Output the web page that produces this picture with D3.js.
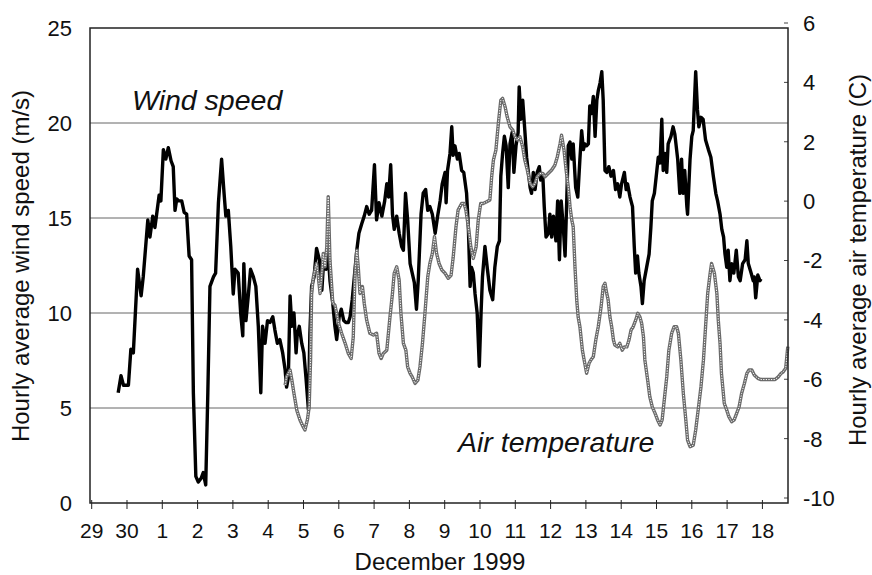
<!DOCTYPE html>
<html><head><meta charset="utf-8">
<script src="https://cdn.jsdelivr.net/npm/d3@7"></script>
<style>
html,body{margin:0;padding:0;background:#fff;}
svg text{font-family:"Liberation Sans",Arial,Helvetica,sans-serif;fill:#111;}
</style></head>
<body>
<svg id="chart" width="872" height="575"></svg>
<script>
// Time in days since 29 Nov 1999 00:00
const dayTicks = [0,1,2,3,4,5,6,7,8,9,10,11,12,13,14,15,16,17,18,19];
const dayLabels = ["29","30","1","2","3","4","5","6","7","8","9","10","11","12","13","14","15","16","17","18"];
const windTicks = [0,5,10,15,20,25];
const tempTicks = [-10,-8,-6,-4,-2,0,2,4,6];

const windTime = [0.75,0.83,0.90,1.04,1.11,1.18,1.30,1.40,1.46,1.59,1.65,1.73,1.79,1.84,1.91,1.96,2.03,2.10,2.17,2.25,2.31,2.36,2.41,2.47,2.55,2.62,2.69,2.76,2.83,2.88,2.95,3.02,3.10,3.16,3.23,3.29,3.35,3.45,3.51,3.59,3.68,3.75,3.80,3.87,3.94,4.01,4.06,4.15,4.22,4.28,4.31,4.37,4.44,4.50,4.58,4.65,4.72,4.79,4.84,4.91,4.98,5.05,5.13,5.19,5.26,5.33,5.41,5.48,5.52,5.57,5.62,5.67,5.73,5.79,5.82,5.88,5.95,6.01,6.07,6.14,6.18,6.23,6.30,6.37,6.45,6.52,6.58,6.64,6.70,6.75,6.83,6.89,6.94,7.01,7.07,7.14,7.20,7.27,7.32,7.38,7.44,7.51,7.57,7.65,7.72,7.79,7.86,7.93,8.01,8.07,8.14,8.22,8.30,8.36,8.41,8.47,8.52,8.57,8.64,8.71,8.78,8.83,8.89,8.95,9.02,9.08,9.14,9.20,9.25,9.33,9.39,9.46,9.52,9.58,9.65,9.73,9.80,9.87,9.93,10.01,10.04,10.08,10.15,10.20,10.24,10.29,10.36,10.41,10.48,10.54,10.62,10.67,10.72,10.76,10.81,10.86,10.92,10.98,11.03,11.07,11.14,11.21,11.28,11.36,11.42,11.49,11.55,11.59,11.64,11.69,11.74,11.80,11.85,11.91,11.96,12.02,12.08,12.11,12.16,12.21,12.27,12.32,12.37,12.42,12.46,12.51,12.56,12.62,12.68,12.72,12.78,12.82,12.87,12.94,12.98,13.03,13.08,13.15,13.20,13.25,13.30,13.36,13.41,13.46,13.50,13.55,13.60,13.64,13.71,13.77,13.83,13.88,13.93,13.97,14.02,14.07,14.11,14.16,14.21,14.26,14.31,14.35,14.40,14.45,14.49,14.54,14.59,14.65,14.71,14.78,14.84,14.90,14.96,15.01,15.09,15.14,15.18,15.25,15.32,15.37,15.41,15.46,15.50,15.56,15.60,15.65,15.72,15.79,15.84,15.88,15.94,16.01,16.05,16.10,16.15,16.19,16.24,16.29,16.33,16.41,16.47,16.52,16.60,16.66,16.71,16.75,16.80,16.86,16.88,16.95,17.00,17.04,17.11,17.16,17.20,17.26,17.32,17.39,17.47,17.54,17.61,17.68,17.73,17.80,17.85,17.90,17.94,17.99,18.03,18.08,18.13,18.19,18.26,18.32,18.37,18.44,18.51,18.56,18.60,18.68,18.74,18.77,18.81,18.87,18.93,18.96];
const windSpeed = [5.8,6.7,6.2,6.2,8.1,7.9,12.3,10.9,11.9,14.9,14.0,15.1,14.5,15.2,16.2,15.9,18.6,18.1,18.7,18.0,17.7,15.4,16.0,15.9,15.9,15.3,15.2,13.0,12.8,5.8,1.4,1.1,1.3,1.6,0.95,5.8,11.4,11.9,12.1,15.8,18.1,16.3,15.1,15.4,13.5,11.0,12.3,12.1,10.0,8.8,12.6,9.6,11.0,12.3,11.9,11.4,9.3,5.8,9.3,8.4,9.6,9.5,9.8,9.1,8.4,8.6,7.9,7.0,6.1,6.6,10.9,9.3,10.0,7.9,8.8,9.3,8.4,7.9,6.6,4.9,8.9,11.4,11.9,13.4,12.8,11.2,13.0,12.3,13.1,11.7,10.5,9.3,8.6,9.8,10.2,9.6,9.5,9.5,9.8,10.7,11.9,13.3,14.2,14.7,15.1,15.6,15.2,15.4,17.8,14.9,15.8,15.1,15.9,16.8,16.1,17.8,15.2,14.4,15.1,14.2,13.5,13.3,16.3,14.9,12.6,12.1,11.6,10.2,11.7,15.2,16.3,16.5,15.4,15.6,15.2,14.2,15.1,15.9,16.8,17.4,15.8,17.5,18.4,19.8,18.3,18.8,18.1,18.4,17.5,17.4,16.3,14.5,11.4,12.4,12.1,11.0,10.0,7.2,10.0,11.9,13.5,12.3,11.2,10.7,12.4,13.5,13.8,17.2,18.4,19.3,18.8,16.6,18.9,19.5,17.4,18.8,19.5,21.9,20.2,21.2,19.6,18.2,17.4,16.6,16.3,17.4,16.5,17.4,17.7,17.0,17.2,15.6,14.0,14.2,15.2,14.0,15.1,13.8,15.9,12.8,15.9,14.5,13.0,16.1,18.8,19.0,18.1,18.9,16.6,16.1,18.1,19.6,18.6,18.9,18.8,18.9,20.9,20.5,21.4,19.3,21.2,21.7,22.1,22.7,21.2,17.5,17.4,17.7,17.2,17.5,16.5,16.8,16.1,16.8,17.4,16.5,16.8,16.1,15.6,13.5,12.1,13.0,12.1,11.4,10.5,11.7,12.4,13.1,14.5,15.9,16.3,17.5,18.2,17.9,20.2,17.5,18.4,17.4,18.9,19.3,19.8,19.4,18.1,16.3,18.1,16.3,17.5,15.6,15.2,18.1,19.3,19.6,22.7,20.7,19.8,20.3,20.2,19.1,18.6,18.2,17.2,16.3,15.9,15.2,14.4,14.0,13.1,12.4,13.3,11.7,12.6,12.1,13.3,11.9,11.7,12.6,12.8,13.8,12.6,12.1,11.7,11.9,10.8,12.0,11.7,11.8];

const tempTime = [5.48,5.52,5.62,5.67,5.73,5.81,5.90,5.99,6.04,6.11,6.16,6.20,6.23,6.28,6.33,6.37,6.42,6.47,6.52,6.56,6.61,6.66,6.70,6.75,6.83,6.89,6.96,6.99,7.08,7.18,7.27,7.35,7.41,7.46,7.51,7.55,7.60,7.67,7.72,7.79,7.88,7.98,8.07,8.14,8.20,8.26,8.36,8.45,8.52,8.57,8.64,8.71,8.76,8.83,8.90,8.95,9.02,9.08,9.16,9.24,9.30,9.37,9.44,9.52,9.58,9.65,9.71,9.77,9.84,9.92,10.01,10.10,10.18,10.24,10.32,10.38,10.48,10.55,10.60,10.67,10.74,10.81,10.89,10.95,11.02,11.09,11.19,11.28,11.33,11.38,11.45,11.52,11.59,11.64,11.71,11.77,11.85,11.93,11.99,12.06,12.13,12.21,12.27,12.34,12.42,12.49,12.56,12.62,12.70,12.78,12.84,12.93,13.03,13.12,13.19,13.27,13.31,13.38,13.44,13.50,13.55,13.60,13.64,13.69,13.74,13.78,13.83,13.90,13.95,14.02,14.09,14.14,14.21,14.28,14.35,14.43,14.49,14.54,14.59,14.63,14.68,14.73,14.78,14.82,14.90,14.96,15.03,15.09,15.16,15.22,15.28,15.34,15.41,15.47,15.53,15.58,15.63,15.67,15.75,15.81,15.88,15.96,16.03,16.10,16.16,16.22,16.29,16.35,16.43,16.50,16.57,16.62,16.69,16.76,16.83,16.88,16.95,17.04,17.11,17.18,17.26,17.33,17.39,17.45,17.52,17.56,17.64,17.71,17.75,17.80,17.84,17.92,17.99,18.05,18.13,18.20,18.27,18.34,18.41,18.49,18.56,18.62,18.70,18.77,18.87,18.96,19.07,19.21,19.36,19.45,19.53,19.59,19.66,19.72];
const tempValue = [-6.20,-5.92,-5.69,-6.03,-6.48,-7.04,-7.37,-7.60,-7.71,-7.37,-6.93,-5.35,-3.11,-2.55,-2.32,-2.10,-2.55,-3.11,-2.43,-1.76,-2.21,-1.54,0.15,-1.99,-3.44,-3.50,-3.90,-4.10,-4.45,-4.79,-5.13,-5.30,-4.57,-2.43,-1.65,-2.21,-3.11,-2.88,-3.44,-4.01,-4.45,-4.51,-4.45,-5.13,-5.30,-5.13,-5.02,-3.90,-3.11,-2.43,-2.21,-2.66,-3.78,-4.79,-5.02,-5.58,-5.80,-5.92,-6.14,-6.03,-5.58,-4.79,-3.78,-2.55,-2.10,-1.76,-1.20,-1.76,-2.10,-2.32,-2.43,-2.60,-2.50,-1.90,-0.86,-0.30,-0.08,-0.08,-0.30,-0.86,-1.54,-1.93,-1.54,-0.64,-0.08,-0.08,-0.02,0.04,0.82,1.38,1.72,2.62,3.40,3.46,3.18,2.84,2.50,2.39,2.17,2.06,2.17,1.83,1.38,1.05,0.60,0.48,0.60,0.82,0.93,0.93,0.82,0.93,1.05,1.21,1.49,1.94,2.22,1.72,1.05,0.48,-0.19,-0.64,-0.86,-2.21,-3.33,-3.90,-4.23,-5.02,-5.35,-5.80,-5.46,-5.35,-5.24,-4.68,-4.23,-3.56,-2.88,-2.77,-3.11,-3.33,-3.90,-4.23,-4.68,-4.85,-4.91,-4.79,-5.02,-4.91,-4.91,-4.68,-4.34,-4.23,-4.01,-3.78,-3.90,-4.12,-4.57,-5.35,-6.03,-6.59,-6.93,-7.15,-7.37,-7.54,-7.37,-6.70,-5.92,-5.02,-4.45,-4.23,-4.23,-4.45,-5.35,-6.48,-7.37,-8.05,-8.27,-8.22,-7.71,-7.04,-6.25,-5.35,-4.23,-3.11,-2.43,-2.10,-2.43,-3.11,-4.01,-4.79,-5.80,-6.81,-7.04,-7.26,-7.43,-7.37,-7.15,-6.93,-6.48,-6.14,-5.80,-5.69,-5.69,-5.86,-5.97,-6.01,-6.01,-6.01,-6.01,-5.92,-5.80,-5.75,-5.63,-4.90];

const svg = d3.select("#chart");
const L = 90, R = 788, T = 28, B = 503;

const x = d3.scaleLinear().domain([-0.048, 19.725]).range([L, R]);
const yW = d3.scaleLinear().domain([0, 25]).range([B, T]);
const yT = d3.scaleLinear().domain([-10, 6]).range([498, 23]);

// gridlines
svg.append("g").selectAll("line").data([5,10,15,20]).join("line")
  .attr("x1", L).attr("x2", R)
  .attr("y1", d => yW(d)).attr("y2", d => yW(d))
  .attr("stroke", "#555").attr("stroke-width", 0.9);

// right inner ticks
svg.append("g").selectAll("line").data(tempTicks).join("line")
  .attr("x1", R - 4).attr("x2", R)
  .attr("y1", d => yT(d)).attr("y2", d => yT(d))
  .attr("stroke", "#444").attr("stroke-width", 1);

const windData = windTime.map((t, i) => [t, windSpeed[i]]);
const tempData = tempTime.map((t, i) => [t, tempValue[i]]);

// wind line
svg.append("path").datum(windData)
  .attr("fill", "none").attr("stroke", "#000").attr("stroke-width", 3.4)
  .attr("stroke-linejoin", "round")
  .attr("d", d3.line().x(d => x(d[0])).y(d => yW(d[1])));

// temperature line (hatched grey)
const tLine = d3.line().x(d => x(d[0])).y(d => yT(d[1]));
svg.append("path").datum(tempData)
  .attr("fill", "none").attr("stroke", "#6a6a6a").attr("stroke-width", 3.4)
  .attr("stroke-linejoin", "round").attr("d", tLine);
svg.append("path").datum(tempData)
  .attr("fill", "none").attr("stroke", "#fff").attr("stroke-width", 1)
  .attr("stroke-dasharray", "1.3,1.3")
  .attr("stroke-linejoin", "round").attr("d", tLine);

// frame
svg.append("rect").attr("x", L).attr("y", T).attr("width", R - L).attr("height", B - T)
  .attr("fill", "none").attr("stroke", "#222").attr("stroke-width", 1.5);

// x ticks crossing axis
svg.append("g").selectAll("line").data(dayTicks).join("line")
  .attr("x1", d => x(d)).attr("x2", d => x(d))
  .attr("y1", B - 3).attr("y2", B + 6)
  .attr("stroke", "#222").attr("stroke-width", 1);

svg.append("g").selectAll("text").data(dayTicks).join("text")
  .attr("x", d => x(d)).attr("y", 538)
  .attr("text-anchor", "middle").attr("font-size", 21)
  .text((d, i) => dayLabels[i]);

// left tick labels
svg.append("g").selectAll("text").data(windTicks).join("text")
  .attr("x", 72).attr("y", d => yW(d)).attr("dy", "0.36em")
  .attr("text-anchor", "end").attr("font-size", 22)
  .text(d => d);

// right tick labels
svg.append("g").selectAll("text").data(tempTicks).join("text")
  .attr("x", 803).attr("y", d => yT(d)).attr("dy", "0.36em")
  .attr("text-anchor", "start").attr("font-size", 22)
  .text(d => String(d));

// axis titles
svg.append("text").attr("transform", "translate(29,266) rotate(-90)")
  .attr("text-anchor", "middle").attr("font-size", 24)
  .text("Hourly average wind speed (m/s)");
svg.append("text").attr("transform", "translate(866,260) rotate(-90)")
  .attr("text-anchor", "middle").attr("font-size", 24)
  .text("Hourly average air temperature (C)");
svg.append("text").attr("x", 440).attr("y", 570)
  .attr("text-anchor", "middle").attr("font-size", 24)
  .text("December 1999");

// series labels
svg.append("text").attr("x", 132).attr("y", 110)
  .attr("font-size", 28.5).attr("font-style", "italic").text("Wind speed");
svg.append("text").attr("x", 458).attr("y", 452)
  .attr("font-size", 28.5).attr("font-style", "italic").text("Air temperature");
</script>
</body></html>
